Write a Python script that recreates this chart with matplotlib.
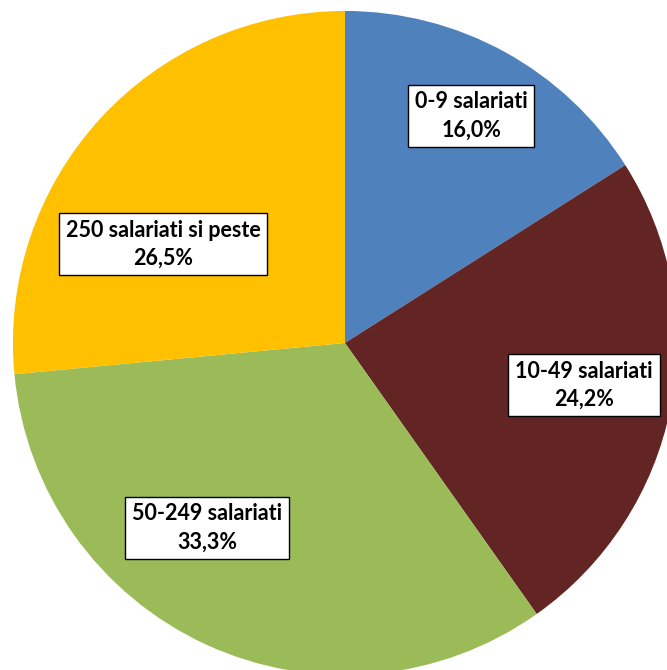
import matplotlib.pyplot as plt

labels = ['0-9 salariati', '10-49 salariati', '50-249 salariati', '250 salariati si peste']
values = [16.0, 24.2, 33.3, 26.5]
pct_text = ['16,0%', '24,2%', '33,3%', '26,5%']
colors = ['#4F81BD', '#632523', '#9BBB59', '#FFC000']

# label box centres, in pie units
label_pos = [(0.380, 0.684), (0.720, -0.127), (-0.416, -0.557), (-0.548, 0.298)]

fig = plt.figure(figsize=(6.67, 6.70), dpi=100)
ax = fig.add_axes([0, 0, 1, 1])
ax.pie(values, colors=colors, startangle=90, counterclock=False, radius=1.0,
       wedgeprops=dict(linewidth=0))
ax.set_aspect('auto')
ax.set_xlim(-1.039, 0.970)
ax.set_ylim(-0.985, 1.033)
ax.axis('off')

for lab, pct, (x, y) in zip(labels, pct_text, label_pos):
    ax.text(x, y, f'{lab}\n{pct}', ha='center', va='center', fontsize=15.5,
            fontweight='bold', family=['Lato', 'DejaVu Sans'], color='black',
            linespacing=1.4,
            bbox=dict(boxstyle='square,pad=0.32', facecolor='white',
                      edgecolor='black', linewidth=1))

fig.savefig('out.png', dpi=100)
